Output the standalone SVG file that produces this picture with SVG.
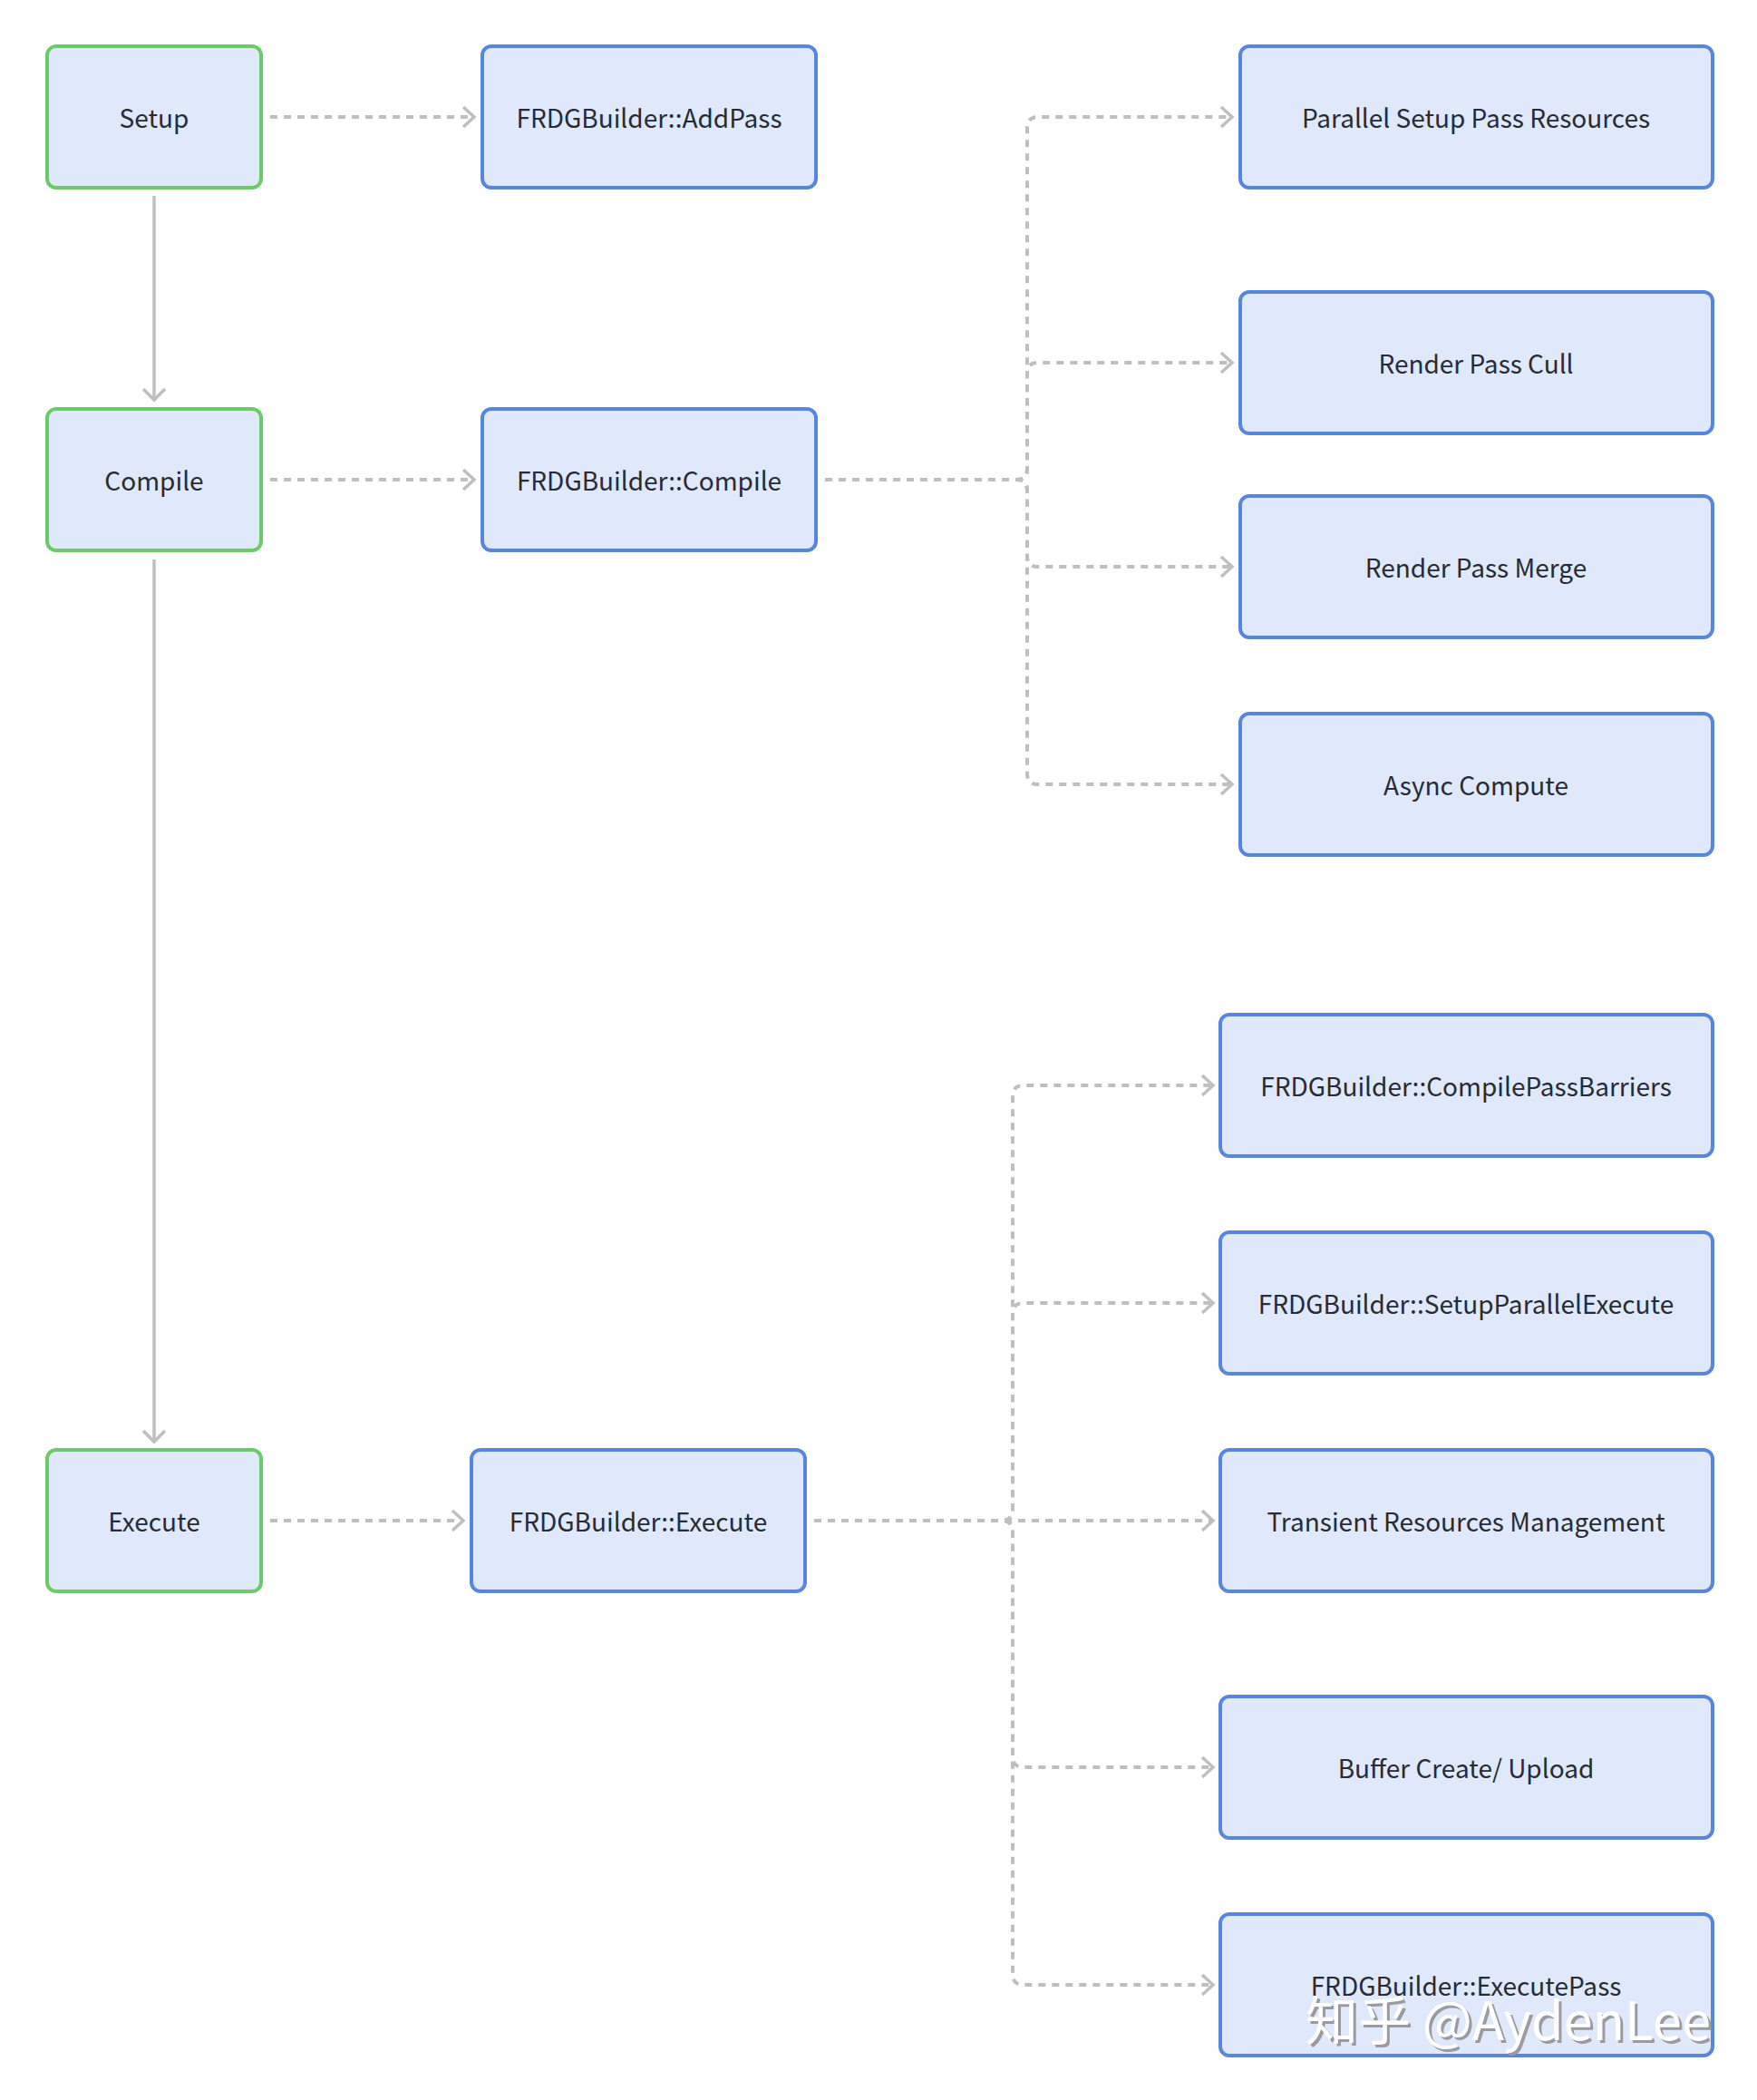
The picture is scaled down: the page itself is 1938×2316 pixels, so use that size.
<svg xmlns="http://www.w3.org/2000/svg" width="1938" height="2316" viewBox="0 0 1938 2316">
<defs>
<style>
.box{fill:#e0e9fb;stroke-width:4}
.g{stroke:#6acb68}
.b{stroke:#5786e0}
.t{font-family:"Noto Sans CJK SC","Noto Sans",sans-serif;font-size:28px;fill:#262b36;text-anchor:middle;dominant-baseline:central}
.d{fill:none;stroke:#bfbfbf;stroke-width:4;stroke-dasharray:8 7;marker-end:url(#ch)}
.s{fill:none;stroke:#bfbfbf;stroke-width:3.5;marker-end:url(#cs)}
.wm{font-family:"Noto Sans CJK SC","Noto Sans",sans-serif;font-size:58px;fill:#ffffff}
</style>
<marker id="ch" markerUnits="userSpaceOnUse" viewBox="-14 -13 16 26" refX="0" refY="0" markerWidth="16" markerHeight="26" orient="auto" overflow="visible">
<path d="M -12 -11 L 0 0 L -12 11" fill="none" stroke="#bfbfbf" stroke-width="3.5"/>
</marker>
<marker id="cs" markerUnits="userSpaceOnUse" viewBox="-14 -13 16 26" refX="0" refY="0" markerWidth="16" markerHeight="26" orient="auto" overflow="visible">
<path d="M -12 -12 L 0 0 L -12 12" fill="none" stroke="#bfbfbf" stroke-width="3.5"/>
</marker>
</defs>
<rect width="1938" height="2316" fill="#ffffff"/>
<g id="connectors">
<path class="s" d="M 170 216 V 441"/>
<path class="s" d="M 170 617 V 1590"/>
<path class="d" d="M 298 129 H 523"/>
<path class="d" d="M 298 529 H 523"/>
<path class="d" d="M 298 1677 H 511"/>
<path class="d" d="M 910 529 H 1121 Q 1133 529 1133 517 V 141 Q 1133 129 1145 129 H 1359"/>
<path class="d" d="M 910 529 H 1121 Q 1133 529 1133 517 V 412 Q 1133 400 1145 400 H 1359"/>
<path class="d" d="M 910 529 H 1121 Q 1133 529 1133 541 V 613 Q 1133 625 1145 625 H 1359"/>
<path class="d" d="M 910 529 H 1121 Q 1133 529 1133 541 V 853 Q 1133 865 1145 865 H 1359"/>
<path class="d" d="M 898 1677 H 1105 Q 1117 1677 1117 1665 V 1209 Q 1117 1197 1129 1197 H 1338"/>
<path class="d" d="M 898 1677 H 1105 Q 1117 1677 1117 1665 V 1449 Q 1117 1437 1129 1437 H 1338"/>
<path class="d" d="M 898 1677 H 1338"/>
<path class="d" d="M 898 1677 H 1105 Q 1117 1677 1117 1689 V 1937 Q 1117 1949 1129 1949 H 1338"/>
<path class="d" d="M 898 1677 H 1105 Q 1117 1677 1117 1689 V 2177 Q 1117 2189 1129 2189 H 1338"/>
</g>
<g id="setup"><rect class="box g" x="52" y="51" width="236" height="156" rx="10"/><text class="t" x="170" y="129">Setup</text></g>
<g id="compile"><rect class="box g" x="52" y="451" width="236" height="156" rx="10"/><text class="t" x="170" y="529">Compile</text></g>
<g id="execute"><rect class="box g" x="52" y="1599" width="236" height="156" rx="10"/><text class="t" x="170" y="1677">Execute</text></g>
<g id="addpass"><rect class="box b" x="532" y="51" width="368" height="156" rx="10"/><text class="t" x="716" y="129">FRDGBuilder::AddPass</text></g>
<g id="fcompile"><rect class="box b" x="532" y="451" width="368" height="156" rx="10"/><text class="t" x="716" y="529">FRDGBuilder::Compile</text></g>
<g id="fexecute"><rect class="box b" x="520" y="1599" width="368" height="156" rx="10"/><text class="t" x="704" y="1677">FRDGBuilder::Execute</text></g>
<g id="parallelsetup"><rect class="box b" x="1368" y="51" width="521" height="156" rx="10"/><text class="t" x="1628" y="129">Parallel Setup Pass Resources</text></g>
<g id="cull"><rect class="box b" x="1368" y="322" width="521" height="156" rx="10"/><text class="t" x="1628" y="400">Render Pass Cull</text></g>
<g id="merge"><rect class="box b" x="1368" y="547" width="521" height="156" rx="10"/><text class="t" x="1628" y="625">Render Pass Merge</text></g>
<g id="async"><rect class="box b" x="1368" y="787" width="521" height="156" rx="10"/><text class="t" x="1628" y="865">Async Compute</text></g>
<g id="barriers"><rect class="box b" x="1346" y="1119" width="543" height="156" rx="10"/><text class="t" x="1617" y="1197">FRDGBuilder::CompilePassBarriers</text></g>
<g id="parallelexec"><rect class="box b" x="1346" y="1359" width="543" height="156" rx="10"/><text class="t" x="1617" y="1437">FRDGBuilder::SetupParallelExecute</text></g>
<g id="transient"><rect class="box b" x="1346" y="1599" width="543" height="156" rx="10"/><text class="t" x="1617" y="1677">Transient Resources Management</text></g>
<g id="buffer"><rect class="box b" x="1346" y="1871" width="543" height="156" rx="10"/><text class="t" x="1617" y="1949">Buffer Create/ Upload</text></g>
<g id="executepass"><rect class="box b" x="1346" y="2111" width="543" height="156" rx="10"/><text class="t" x="1617" y="2189">FRDGBuilder::ExecutePass</text></g>
<g id="watermark">
<text class="wm" x="1443" y="2253" style="fill:#9a9aa0">知乎 @AydenLee</text>
<text class="wm" x="1440" y="2250">知乎 @AydenLee</text>
</g>
</svg>
